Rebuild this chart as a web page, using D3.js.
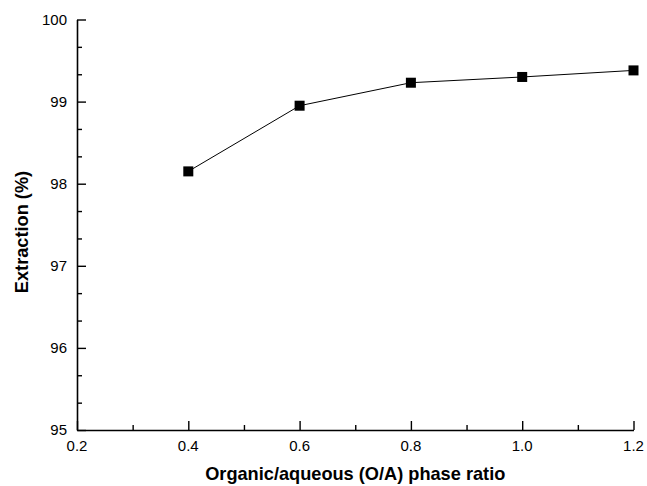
<!DOCTYPE html>
<html>
<head>
<meta charset="utf-8">
<script src="https://cdn.jsdelivr.net/npm/d3@7"></script>
<style>
	body { margin: 0; background: #fff; }
	svg { display: block; }
	text { font-family: "Liberation Sans", Arial, sans-serif; fill: #000; }
	.tick-label { font-size: 15px; }
	.axis-label { font-size: 18.2px; font-weight: bold; }
</style>
</head>
<body>
<svg width="647" height="486"></svg>
<script>
// phase ratio O/A vs extraction %
const ratios = [0.4, 0.6, 0.8, 1.0, 1.2];
const extraction = [98.15, 98.95, 99.23, 99.30, 99.38];

const xTicks = [0.2, 0.4, 0.6, 0.8, 1.0, 1.2];
const xMinor = [0.3, 0.5, 0.7, 0.9, 1.1];
const yTicks = [95, 96, 97, 98, 99, 100];
const yMinor = [95.333, 95.667, 96.333, 96.667, 97.333, 97.667, 98.333, 98.667, 99.333, 99.667];

const svg = d3.select("svg");
const margin = {top: 19.5, right: 13.5, bottom: 56, left: 77};
const width = 647 - margin.left - margin.right;
const height = 486 - margin.top - margin.bottom;

const g = svg.append("g")
	.attr("transform", `translate(${margin.left},${margin.top})`);

const x = d3.scaleLinear().domain([0.2, 1.2]).range([0, width]);
const y = d3.scaleLinear().domain([95, 100]).range([height, 0]);

// x axis, ticks pointing inward
const gX = g.append("g").attr("transform", `translate(0,${height})`);
gX.append("g").attr("class", "major")
	.call(d3.axisTop(x).tickValues(xTicks).tickSize(9).tickSizeOuter(0).tickFormat(""));
gX.append("g").attr("class", "minor")
	.call(d3.axisTop(x).tickValues(xMinor).tickSize(5).tickSizeOuter(0).tickFormat(""));
gX.select(".minor path.domain").remove();
gX.selectAll("path.domain").attr("stroke-width", 1.6);
gX.selectAll(".tick line").attr("stroke-width", 1.4);

gX.selectAll(".tick-label")
	.data(xTicks)
	.enter().append("text")
	.attr("class", "tick-label")
	.attr("text-anchor", "middle")
	.attr("x", d => x(d))
	.attr("y", 21)
	.text(d => d3.format(".1f")(d));

// y axis
const gY = g.append("g");
gY.append("g").attr("class", "major")
	.call(d3.axisRight(y).tickValues(yTicks).tickSize(9).tickSizeOuter(0).tickFormat(""));
gY.append("g").attr("class", "minor")
	.call(d3.axisRight(y).tickValues(yMinor).tickSize(5).tickSizeOuter(0).tickFormat(""));
gY.select(".minor path.domain").remove();
gY.selectAll("path.domain").attr("stroke-width", 1.6);
gY.selectAll(".tick line").attr("stroke-width", 1.4);

gY.selectAll(".tick-label")
	.data(yTicks)
	.enter().append("text")
	.attr("class", "tick-label")
	.attr("text-anchor", "end")
	.attr("x", -10)
	.attr("y", d => y(d))
	.attr("dy", "0.35em")
	.text(d => d);

// axis titles
svg.append("text")
	.attr("class", "axis-label")
	.attr("text-anchor", "middle")
	.attr("x", margin.left + width / 2)
	.attr("y", 480)
	.text("Organic/aqueous (O/A) phase ratio");

svg.append("text")
	.attr("class", "axis-label")
	.attr("text-anchor", "middle")
	.attr("transform", `translate(28,232) rotate(-90)`)
	.text("Extraction (%)");

// line and markers
const punten = ratios.map((r, i) => ({ratio: r, waarde: extraction[i]}));

const line = d3.line()
	.x(d => x(d.ratio))
	.y(d => y(d.waarde));

g.append("path")
	.datum(punten)
	.attr("fill", "none")
	.attr("stroke", "#000")
	.attr("stroke-width", 1)
	.attr("d", line);

const s = 10;
g.selectAll(".marker")
	.data(punten)
	.enter().append("rect")
	.attr("class", "marker")
	.attr("x", d => x(d.ratio) - s / 2)
	.attr("y", d => y(d.waarde) - s / 2)
	.attr("width", s)
	.attr("height", s)
	.attr("fill", "#000");
</script>
</body>
</html>
